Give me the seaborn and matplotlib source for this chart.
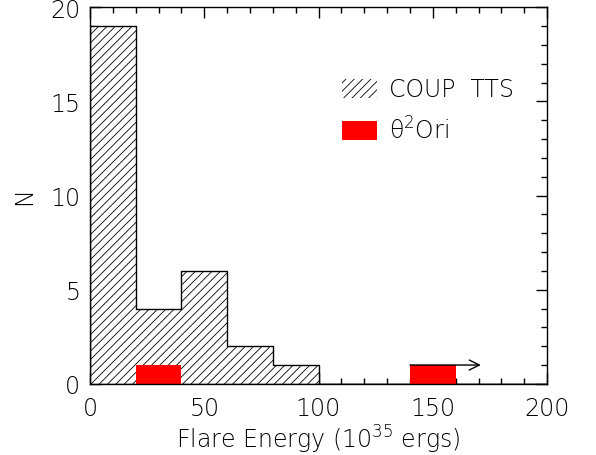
import numpy as np
import pandas as pd
import matplotlib
matplotlib.use('Agg')
import matplotlib.pyplot as plt
from matplotlib.patches import Patch
from matplotlib.ticker import MultipleLocator
import seaborn as sns

# histogram data (bins of 20 x 10^35 ergs)
bin_edges = [0, 20, 40, 60, 80, 100, 120, 140, 160, 180, 200]
coup_counts = [19, 4, 6, 2, 1, 0, 0, 0, 0, 0]
theta_counts = [0, 1, 0, 0, 0, 0, 0, 1, 0, 0]

sns.set_style('ticks')
plt.rcParams['font.family'] = ['DejaVu Sans']
plt.rcParams['font.weight'] = 'light'
plt.rcParams['axes.labelweight'] = 'light'
plt.rcParams['mathtext.fontset'] = 'custom'
plt.rcParams['mathtext.rm'] = 'DejaVu Sans:light'
plt.rcParams['mathtext.it'] = 'DejaVu Sans:italic:light'
plt.rcParams['hatch.linewidth'] = 0.6
plt.rcParams['hatch.color'] = 'black'
plt.rcParams['text.color'] = 'black'
plt.rcParams['axes.labelcolor'] = 'black'
plt.rcParams['xtick.color'] = 'black'
plt.rcParams['ytick.color'] = 'black'
plt.rcParams['axes.edgecolor'] = 'black'

FS = 17


def main():
    centers = [(a + b) / 2 for a, b in zip(bin_edges[:-1], bin_edges[1:])]
    df = pd.DataFrame({'energy': centers, 'coup': coup_counts, 'theta': theta_counts})

    fig = plt.figure(figsize=(5.96, 4.56), dpi=100)
    ax = fig.add_axes([0.151, 0.156, 0.767, 0.826])

    # COUP TTS hatched step histogram
    sns.histplot(data=df, x='energy', weights='coup', bins=bin_edges, element='step',
                 fill=True, color='white', alpha=1, edgecolor='black', linewidth=1.0, ax=ax)
    for coll in ax.collections:
        coll.set_hatch('////')
        coll.set_facecolor('white')
        coll.set_edgecolor('black')

    # theta^2 Ori red bars
    n0 = len(ax.patches)
    sns.histplot(data=df[df['theta'] > 0], x='energy', weights='theta', bins=bin_edges,
                 element='bars', color='red', alpha=1, linewidth=0, ax=ax)
    for p in ax.patches[n0:]:
        p.set_facecolor('red')
        p.set_edgecolor('none')

    # lower limit arrow on the large theta^2 Ori flare
    ax.annotate('', xy=(171, 1), xytext=(140, 1),
                arrowprops=dict(arrowstyle='->', color='black', lw=1.0, mutation_scale=18,
                                shrinkA=0, shrinkB=0))

    ax.set_xlim(0, 200)
    ax.set_ylim(0, 20)
    ax.xaxis.set_major_locator(MultipleLocator(50))
    ax.xaxis.set_minor_locator(MultipleLocator(10))
    ax.yaxis.set_major_locator(MultipleLocator(5))
    ax.yaxis.set_minor_locator(MultipleLocator(1))
    ax.tick_params(which='both', direction='in', top=True, right=True, width=1.0,
                   labelsize=FS)
    ax.tick_params(axis='x', pad=9)
    ax.tick_params(axis='y', pad=7)
    ax.tick_params(which='major', length=8)
    ax.tick_params(which='minor', length=4)
    for s in ax.spines.values():
        s.set_visible(True)
        s.set_linewidth(1.0)

    ax.set_xlabel('Flare Energy (10$^{35}$ ergs)', fontsize=FS, labelpad=2, fontweight='light')
    ax.set_ylabel('N', fontsize=FS, labelpad=10, fontweight='light')

    handles = [Patch(facecolor='white', edgecolor='black', hatch='////', linewidth=0),
               Patch(facecolor='red', edgecolor='none')]
    labels = ['COUP  TTS', 'θ$^2$Ori']
    ax.legend(handles, labels, loc='upper left', bbox_to_anchor=(0.505, 0.87), frameon=False,
              fontsize=FS, handlelength=1.48, handleheight=0.86, handletextpad=0.5,
              labelspacing=0.65)

    fig.savefig('out.png', dpi=100)
    plt.close(fig)


if __name__ == '__main__':
    main()
